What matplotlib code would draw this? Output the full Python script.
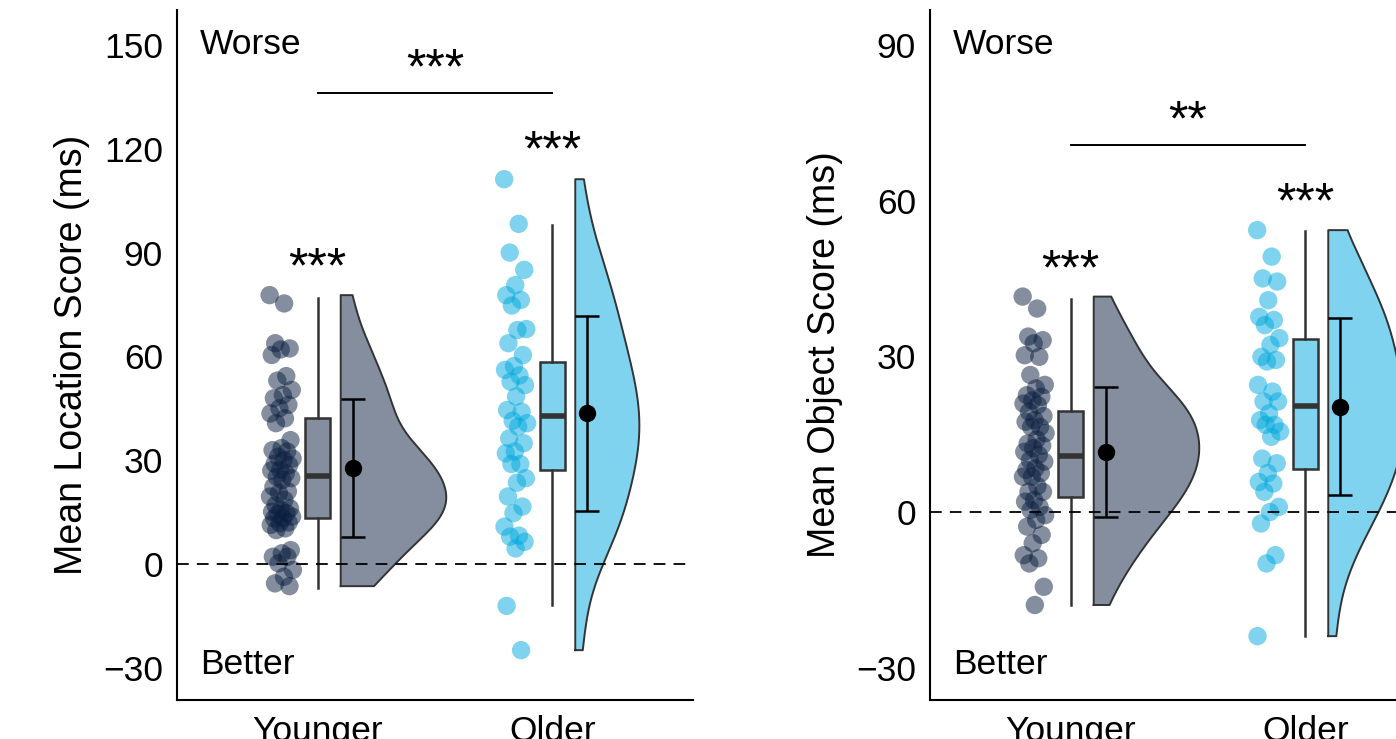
import numpy as np
import matplotlib
matplotlib.use("Agg")
import matplotlib.pyplot as plt

plt.rcParams['font.family'] = ['Liberation Sans', 'DejaVu Sans']

groups = ["Younger", "Older"]
colors = ["#0B1F40", "#00A8DE"]

# individual scores (ms)
loc_young = [77.7, 75.3, 63.8, 62.3, 62.0, 60.4, 54.3, 53.0, 50.3, 48.8, 47.9, 46.0,
             45.0, 43.5, 42.1, 40.7, 35.8, 33.5, 32.9, 32.5, 31.0, 30.5, 30.0, 29.0,
             28.6, 27.2, 27.0, 26.2, 25.2, 24.8, 24.3, 22.3, 21.0, 20.5, 19.5, 18.5,
             17.0, 16.1, 15.6, 15.1, 14.7, 14.5, 13.7, 13.2, 13.2, 12.0, 11.8, 11.3,
             10.3, 9.8, 4.0, 3.1, 2.1, 2.1, 0.2, -1.7, -3.7, -5.6, -6.4]
loc_old = [111.2, 98.3, 90.0, 85.0, 80.6, 77.7, 76.3, 74.7, 67.9, 67.6, 63.8, 60.4,
           57.2, 56.1, 54.5, 52.7, 51.7, 48.4, 44.5, 44.0, 41.4, 40.7, 39.7, 36.3,
           34.9, 32.5, 32.0, 28.9, 28.9, 24.8, 23.5, 19.5, 16.6, 14.7, 10.8, 8.2,
           7.9, 6.4, 4.5, -12.1, -24.9]
obj_young = [41.5, 39.2, 33.8, 33.1, 32.5, 30.2, 29.9, 26.4, 24.5, 23.8, 22.5, 22.2,
             21.5, 20.9, 20.6, 19.3, 18.5, 17.7, 17.4, 16.4, 16.4, 15.2, 14.0, 13.2,
             12.8, 12.3, 11.6, 11.0, 10.0, 9.7, 8.4, 8.1, 7.5, 6.8, 6.8, 5.0, 3.9,
             3.9, 2.3, 2.0, 1.0, 0.4, -0.6, -1.5, -2.8, -4.4, -6.0, -8.3, -8.9, -9.9,
             -14.4, -17.9]
obj_old = [54.3, 49.2, 45.0, 44.4, 40.8, 37.6, 37.0, 36.0, 33.5, 32.2, 29.9, 29.3,
           29.0, 24.5, 23.2, 21.3, 21.3, 19.0, 17.7, 16.8, 16.8, 15.5, 14.5, 10.3,
           9.4, 7.5, 5.8, 5.5, 3.9, 1.0, 0.0, -2.2, -8.3, -9.9, -23.9]

# box summaries: whisker low, q1, median, q3, whisker high
loc_box = [[-7.0, 13.4, 25.4, 42.1, 77.0], [-11.8, 27.2, 42.8, 58.5, 98.0]]
obj_box = [[-17.9, 2.9, 10.8, 19.5, 41.0], [-23.9, 8.3, 20.4, 33.3, 54.2]]
# mean and sd
loc_mean = [27.7, 43.5]
loc_sd = [19.9, 28.2]
obj_mean = [11.5, 20.3]
obj_sd = [12.5, 17.1]

# significance labels (y, text)
loc_sig_group = [(89, "***"), (123, "***")]
loc_sig_between = (136, "***")
obj_sig_group = [(49, "***"), (62, "***")]
obj_sig_between = (70.7, "**")

W, H = 1396, 739
fig = plt.figure(figsize=(W / 100, H / 100), dpi=100)
ax1 = fig.add_axes([177 / W, 39 / H, 516 / W, 690 / H])
ax2 = fig.add_axes([930 / W, 39 / H, 516 / W, 690 / H])

FS = 25.5


def kde(vals, grid):
    v = np.asarray(vals)
    n = len(v)
    iqr = np.subtract(*np.percentile(v, [75, 25]))
    bw = 0.9 * min(v.std(ddof=1), iqr / 1.34) * n ** -0.2
    d = np.exp(-0.5 * ((grid[:, None] - v[None, :]) / bw) ** 2).sum(axis=1)
    return d / (n * bw * np.sqrt(2 * np.pi))


def raincloud(ax, data, box, means, sds, ylim, ylabel, sig_group, sig_between):
    ax.set_xlim(0.4, 2.6)
    ax.set_ylim(*ylim)
    pos = [1, 2]
    span = ylim[1] - ylim[0]

    # half violins, area scaled
    grids, dens = [], []
    for vals in data:
        g = np.linspace(min(vals), max(vals), 300)
        grids.append(g)
        dens.append(kde(vals, g))
    dmax = max(d.max() for d in dens)
    for p, g, d, c in zip(pos, grids, dens, colors):
        x0 = p + 0.098
        xs = np.concatenate([[x0], x0 + d / dmax * 0.45, [x0], [x0]])
        ys = np.concatenate([[g[0]], g, [g[-1]], [g[0]]])
        ax.fill(xs, ys, facecolor=c, alpha=0.5, edgecolor="none", zorder=2)
        ax.plot(xs, ys, color="#333333", lw=1.4, zorder=2.1)

    # jittered points
    for p, vals, c in zip(pos, data, colors):
        n = len(vals)
        jit = ((np.arange(n) * 0.6180339887) % 1 - 0.5) * 0.1
        ax.scatter(p - 0.155 + jit, vals, s=175, color=c, alpha=0.5,
                   edgecolors="none", zorder=3)

    # boxplots
    stats = [dict(whislo=b[0], q1=b[1], med=b[2], q3=b[3], whishi=b[4], fliers=[])
             for b in box]
    bp = ax.bxp(stats, positions=pos, widths=0.106, patch_artist=True, showcaps=False,
                showfliers=False, manage_ticks=False,
                boxprops=dict(linewidth=1.8, edgecolor="#333333"),
                whiskerprops=dict(linewidth=1.8, color="#333333"),
                medianprops=dict(linewidth=4, color="#333333"))
    for patch, c in zip(bp["boxes"], colors):
        patch.set_facecolor(matplotlib.colors.to_rgba(c, 0.5))
        patch.set_zorder(4)
    for ln in bp["whiskers"] + bp["medians"]:
        ln.set_zorder(4.1)

    # mean +/- sd
    ax.errorbar([p + 0.149 for p in pos], means, yerr=sds, fmt="o", color="black",
                ms=11.5, elinewidth=1.8, capsize=8.5, capthick=1.8, zorder=5)

    ax.axhline(0, color="black", lw=1.3, ls=(0, (6.5, 4.5)), zorder=6)

    # significance
    for p, (y, s) in zip(pos, sig_group):
        ax.text(p, y - span * 0.02, s, ha="center", va="center", fontsize=36, zorder=7)
    yb, sb = sig_between
    ax.plot([1, 2], [yb, yb], color="black", lw=1.4, zorder=7)
    ax.text(1.5, yb + span * 0.033, sb, ha="center", va="center", fontsize=36, zorder=7)

    ax.text(0.0446, (700 - 45) / 690, "Worse", transform=ax.transAxes,
            fontsize=FS, ha="left", va="center")
    ax.text(0.0446, (700 - 665) / 690, "Better", transform=ax.transAxes,
            fontsize=FS, ha="left", va="center")

    for sp in ["top", "right"]:
        ax.spines[sp].set_visible(False)
    for sp in ["left", "bottom"]:
        ax.spines[sp].set_linewidth(1.5)
    ax.set_xticks(pos)
    ax.set_xticklabels(groups)
    ax.tick_params(axis="both", length=0, labelsize=FS)
    ax.tick_params(axis="y", pad=10)
    ax.tick_params(axis="x", pad=11)
    ax.set_ylabel(ylabel, fontsize=27, va="center")
    ax.yaxis.set_label_coords(-0.203, 0.5)


raincloud(ax1, [loc_young, loc_old], loc_box, loc_mean, loc_sd, (-39.3, 160.1),
          "Mean Location Score (ms)", loc_sig_group, loc_sig_between)
ax1.set_yticks([-30, 0, 30, 60, 90, 120, 150])
raincloud(ax2, [obj_young, obj_old], obj_box, obj_mean, obj_sd, (-36.2, 96.7),
          "Mean Object Score (ms)", obj_sig_group, obj_sig_between)
ax2.set_yticks([-30, 0, 30, 60, 90])

fig.savefig("out.png", dpi=100)
